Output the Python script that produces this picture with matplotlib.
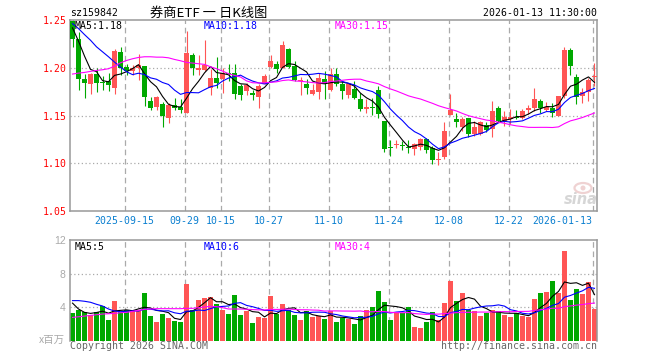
import numpy as np
import pandas as pd
import matplotlib
matplotlib.use("Agg")
import matplotlib.pyplot as plt
from matplotlib.patches import Ellipse

# ---------------- data ----------------
opens = [1.2486, 1.2306, 1.1878, 1.1833, 1.1938, 1.1854, 1.1860, 1.1785, 1.2167, 1.2007,
         1.1965, 1.2000, 1.2017, 1.1653, 1.1594, 1.1618, 1.1472, 1.1611, 1.1594, 1.1531,
         1.2132, 1.1972, 1.1972, 1.1785, 1.1889, 1.1878, 1.1950, 1.1948, 1.1809, 1.1757,
         1.1740, 1.1698, 1.1833, 1.2007, 1.2035, 1.2000, 1.2201, 1.2017, 1.1865, 1.1826,
         1.1722, 1.1750, 1.1878, 1.1764, 1.1938, 1.1826, 1.1715, 1.1774, 1.1670, 1.1566,
         1.1590, 1.1764, 1.1438, 1.1167, 1.1194, 1.1191, 1.1167, 1.1149, 1.1167, 1.1253,
         1.1160, 1.1038, 1.1063, 1.1507, 1.1462, 1.1382, 1.1469, 1.1306, 1.1306, 1.1403,
         1.1358, 1.1576, 1.1444, 1.1462, 1.1486, 1.1472, 1.1556, 1.1583, 1.1653, 1.1556,
         1.1576, 1.1497, 1.1705, 1.2191, 1.1903, 1.1705, 1.1750, 1.1903]
highs = [1.2500, 1.2375, 1.1930, 1.1940, 1.2000, 1.1910, 1.1950, 1.2201, 1.2215, 1.2035,
         1.2030, 1.2139, 1.2020, 1.1698, 1.1700, 1.1646, 1.1635, 1.1688, 1.1670, 1.2389,
         1.2156, 1.2132, 1.2292, 1.1983, 1.2111, 1.2000, 1.2035, 1.2035, 1.1833, 1.1844,
         1.1764, 1.1826, 1.1931, 1.2132, 1.2069, 1.2285, 1.2208, 1.2069, 1.1903, 1.1878,
         1.1826, 1.1948, 1.1965, 1.2000, 1.2000, 1.1861, 1.1844, 1.1861, 1.1740, 1.1670,
         1.1688, 1.1809, 1.1444, 1.1243, 1.1243, 1.1236, 1.1243, 1.1208, 1.1264, 1.1264,
         1.1184, 1.1115, 1.1427, 1.1729, 1.1531, 1.1486, 1.1479, 1.1444, 1.1444, 1.1427,
         1.1653, 1.1601, 1.1542, 1.1566, 1.1556, 1.1566, 1.1611, 1.1785, 1.1670, 1.1646,
         1.1635, 1.1705, 1.2215, 1.2208, 1.1931, 1.1792, 1.1889, 1.2052]
lows = [1.2215, 1.1764, 1.1680, 1.1730, 1.1750, 1.1764, 1.1760, 1.1722, 1.1924, 1.1924,
        1.1920, 1.1868, 1.1600, 1.1556, 1.1556, 1.1375, 1.1417, 1.1556, 1.1531, 1.1521,
        1.1924, 1.1924, 1.1965, 1.1715, 1.1792, 1.1740, 1.1861, 1.1670, 1.1660, 1.1715,
        1.1660, 1.1583, 1.1826, 1.2000, 1.1948, 1.2000, 1.2000, 1.1861, 1.1715, 1.1722,
        1.1715, 1.1670, 1.1670, 1.1757, 1.1809, 1.1670, 1.1688, 1.1670, 1.1542, 1.1531,
        1.1507, 1.1479, 1.1115, 1.1080, 1.1160, 1.1139, 1.1104, 1.1090, 1.1139, 1.1104,
        1.0993, 1.0986, 1.1045, 1.1507, 1.1375, 1.1340, 1.1271, 1.1288, 1.1299, 1.1323,
        1.1271, 1.1437, 1.1392, 1.1410, 1.1462, 1.1462, 1.1514, 1.1549, 1.1531, 1.1549,
        1.1486, 1.1490, 1.1688, 1.1924, 1.1625, 1.1635, 1.1653, 1.1809]
closes = [1.2306, 1.1878, 1.1837, 1.1930, 1.1844, 1.1837, 1.1816, 1.2174, 1.2000, 1.1965,
          1.2000, 1.2024, 1.1698, 1.1583, 1.1698, 1.1497, 1.1611, 1.1583, 1.1556, 1.2156,
          1.1993, 1.2000, 1.2028, 1.1889, 1.1837, 1.1948, 1.1930, 1.1729, 1.1715, 1.1816,
          1.1715, 1.1809, 1.1913, 1.2069, 1.1983, 1.2243, 1.2007, 1.1868, 1.1875, 1.1792,
          1.1764, 1.1896, 1.1833, 1.1931, 1.1833, 1.1757, 1.1826, 1.1688, 1.1566, 1.1590,
          1.1583, 1.1514, 1.1149, 1.1160, 1.1201, 1.1184, 1.1160, 1.1201, 1.1253, 1.1139,
          1.1035, 1.1049, 1.1333, 1.1556, 1.1434, 1.1462, 1.1306, 1.1375, 1.1427, 1.1347,
          1.1549, 1.1444, 1.1486, 1.1486, 1.1479, 1.1542, 1.1583, 1.1670, 1.1583, 1.1590,
          1.1531, 1.1705, 1.2191, 1.2017, 1.1694, 1.1750, 1.1870, 1.1905]
volumes = [3.36, 3.68, 3.40, 3.08, 3.40, 4.16, 2.48, 4.76, 3.40, 3.68,
           3.68, 3.56, 5.72, 2.96, 2.24, 3.20, 2.72, 2.36, 2.24, 6.80,
           3.68, 4.88, 5.12, 5.24, 4.40, 3.68, 3.20, 5.48, 3.08, 3.56,
           2.12, 2.84, 2.72, 5.36, 3.20, 4.40, 3.68, 3.08, 2.48, 3.56,
           2.84, 2.96, 2.60, 3.56, 2.24, 2.72, 2.60, 2.00, 2.96, 3.68,
           4.04, 5.96, 4.64, 2.48, 3.32, 3.32, 4.04, 1.64, 1.52, 2.24,
           3.44, 2.48, 4.52, 7.16, 4.76, 5.72, 3.68, 3.56, 2.96, 3.32,
           3.68, 3.56, 3.08, 2.84, 3.32, 2.96, 2.84, 5.00, 5.72, 5.84,
           7.16, 5.72, 10.64, 4.88, 6.20, 5.60, 7.04, 3.80]

# moving-average values before a full window is available
ma5_head = [1.2417, 1.2278, 1.2122, 1.1983]
ma10_head = [1.2462, 1.2410, 1.2347, 1.2288, 1.2219, 1.2167, 1.2115, 1.2059, 1.2007]
ma30_head = [1.1934, 1.1944, 1.1951, 1.1962, 1.1972, 1.1979, 1.1990, 1.2017, 1.2052, 1.2076,
             1.2094, 1.2108, 1.2115, 1.2115, 1.2111, 1.2111, 1.2104, 1.2087, 1.2073, 1.2056,
             1.2049, 1.2042, 1.2035, 1.2010, 1.1990, 1.1965, 1.1938, 1.1920, 1.1903]
vma5_head = [4.50, 3.80, 3.40, 3.28]
vma10_head = [4.80, 4.80, 4.72, 4.60, 4.36, 4.16, 3.80, 3.56, 3.48]
vma30_head = [2.80, 2.88, 2.96, 3.04, 3.12, 3.20, 3.24, 3.28, 3.36, 3.40,
              3.52, 3.64, 3.76, 3.80, 3.84, 3.84, 3.84, 3.84, 3.84, 3.88,
              3.88, 3.96, 4.04, 4.12, 4.08, 3.96, 3.80, 3.80, 3.80]

tick_dates = ['2025-09-15', '2025-09-29', '2025-10-15', '2025-10-27', '2025-11-10',
              '2025-11-24', '2025-12-08', '2025-12-22', '2026-01-13']
tick_labels = ['2025-09-15', '09-29', '10-15', '10-27', '11-10',
               '11-24', '12-08', '12-22', '2026-01-13']
holidays = ['2025-10-01', '2025-10-02', '2025-10-03', '2025-10-06', '2025-10-07',
            '2025-10-08', '2026-01-01', '2026-01-02']
price_ticks = [1.05, 1.10, 1.15, 1.20, 1.25]
vol_ticks = [4, 8, 12]

title = '券商ETF 一 日K线图'
code = 'sz159842'
stamp = '2026-01-13 11:30:00'

# ---------------- styling ----------------
RED = '#FF5555'
GREEN = '#00A800'
GRID = '#AAAAAA'
SPINE = '#999999'
MONO = 'DejaVu Sans Mono'
CJK = ['Noto Sans CJK SC', 'DejaVu Sans']
FS = 7.1

W, H = 660, 360
fig = plt.figure(figsize=(W / 100, H / 100), dpi=100)
fig.patch.set_facecolor('white')


def fx(px):
    return px / W


def fy(py):
    return 1 - py / H


L, R = 70, 597
ax = fig.add_axes([fx(L), fy(211), (R - L) / W, (211 - 20) / H])
axv = fig.add_axes([fx(L), fy(341), (R - L) / W, (341 - 240) / H])

dates = pd.bdate_range('2025-09-02', '2026-01-13')
dates = dates[~dates.isin(pd.to_datetime(holidays))]
n = len(closes)
x = np.arange(n)
o = np.array(opens)
c = np.array(closes)
h = np.array(highs)
l = np.array(lows)
v = np.array(volumes)
up = c >= o
cols = np.where(up, RED, GREEN)

# moving averages
s = pd.Series(closes)
ma5 = s.rolling(5).mean().to_numpy()
ma5[:4] = ma5_head
ma10 = s.rolling(10).mean().to_numpy()
ma10[:9] = ma10_head
ma30 = s.rolling(30).mean().to_numpy()
ma30[:29] = ma30_head
sv = pd.Series(volumes)
vma5 = sv.rolling(5).mean().to_numpy()
vma5[:4] = vma5_head
vma10 = sv.rolling(10).mean().to_numpy()
vma10[:9] = vma10_head
vma30 = sv.rolling(30).mean().to_numpy()
vma30[:29] = vma30_head

tick_pos = [int(np.where(dates == pd.Timestamp(d))[0][0]) - 0.33 for d in tick_dates]

# ---------------- shared axes styling ----------------
for a in (ax, axv):
    a.set_xlim(-0.42, n - 0.58)
    for p in tick_pos:
        a.axvline(p, color=GRID, lw=0.9, ls=(0, (4.5, 3)), zorder=0)
    for sp in a.spines.values():
        sp.set_color(SPINE)
        sp.set_linewidth(1.1)
    a.tick_params(length=0)
    a.set_facecolor('white')

# ---------------- price panel ----------------
ax.set_ylim(1.05, 1.25)
for yv in price_ticks[1:-1]:
    ax.axhline(yv, color=GRID, lw=0.9, ls=(0, (1, 2)), zorder=0)

ax.vlines(x, l, h, colors=cols, linewidth=0.8, zorder=2)
body = np.maximum(np.abs(c - o), 0.0009)
ax.bar(x, body, bottom=np.minimum(o, c), width=0.78, color=cols, linewidth=0, zorder=3)

ax.plot(x, ma5, color='black', lw=0.8, zorder=4)
ax.plot(x, ma10, color='#0000FF', lw=0.8, zorder=4)
ax.plot(x, ma30, color='#FF00FF', lw=0.8, zorder=4)

ax.set_yticks(price_ticks)
ax.set_yticklabels([f'{t:.2f}' for t in price_ticks], color='#FF0000',
                   fontsize=FS, family=MONO)
ax.tick_params(axis='y', pad=2.5)
ax.set_xticks(tick_pos)
ax.set_xticklabels(tick_labels, color='#0A7FD0', fontsize=FS, family=MONO)
ax.tick_params(axis='x', pad=3.5)
ax.get_xticklabels()[-1].set_ha('right')

fig.text(fx(75), fy(26.3), f'MA5:{ma5[-1]:.2f}', color='black',
         fontsize=FS, family=MONO, va='center', ha='left')
fig.text(fx(204), fy(26.3), f'MA10:{ma10[-1]:.2f}', color='#0000FF',
         fontsize=FS, family=MONO, va='center', ha='left')
fig.text(fx(335), fy(26.3), f'MA30:{ma30[-1]:.2f}', color='#FF00FF',
         fontsize=FS, family=MONO, va='center', ha='left')

# sina watermark (logo drawn as shapes, word as text)
fig.add_artist(Ellipse((fx(583), fy(188)), 17 / W, 10 / H, transform=fig.transFigure,
                       facecolor='none', edgecolor='#EFD2D2', lw=1.6, zorder=5))
fig.add_artist(Ellipse((fx(583), fy(188)), 5 / W, 5 / H, transform=fig.transFigure,
                       facecolor='#EFD2D2', edgecolor='none', zorder=5))
fig.text(fx(581), fy(199), 'sina', color='#D6D6D6', fontsize=10.5, style='italic',
         weight='bold', ha='center', va='center', family='DejaVu Sans')

# ---------------- volume panel ----------------
axv.set_ylim(0, 12)
for yv in vol_ticks[:-1]:
    axv.axhline(yv, color=GRID, lw=0.9, ls=(0, (1, 2)), zorder=0)
axv.bar(x, v, width=0.84, color=cols, linewidth=0, zorder=2)
axv.plot(x, vma5, color='black', lw=0.8, zorder=4)
axv.plot(x, vma10, color='#0000FF', lw=0.8, zorder=4)
axv.plot(x, vma30, color='#FF00FF', lw=0.8, zorder=4)
axv.set_yticks(vol_ticks)
axv.set_yticklabels([str(t) for t in vol_ticks], color='#AAAAAA', fontsize=7.5,
                    family='Liberation Sans')
axv.tick_params(axis='y', pad=3)
axv.set_xticks([])
axv.spines['bottom'].set_visible(False)

fig.text(fx(75), fy(246.5), f'MA5:{int(vma5[-1])}', color='black',
         fontsize=FS, family=MONO, va='center', ha='left')
fig.text(fx(204), fy(246.5), f'MA10:{int(vma10[-1])}', color='#0000FF',
         fontsize=FS, family=MONO, va='center', ha='left')
fig.text(fx(335), fy(246.5), f'MA30:{int(vma30[-1])}', color='#FF00FF',
         fontsize=FS, family=MONO, va='center', ha='left')
fig.text(fx(65), fy(340), 'x百万', color='#AAAAAA', fontsize=7.5, family=CJK,
         ha='right', va='center')

# ---------------- header / footer ----------------
fig.text(fx(70), fy(13), code, color='black', fontsize=FS, family=MONO,
         ha='left', va='center')
fig.text(fx(209), fy(13), title, color='black', fontsize=9.5, family=CJK,
         ha='center', va='center')
fig.text(fx(597), fy(13), stamp, color='black', fontsize=FS, family=MONO,
         ha='right', va='center')
fig.text(fx(70), fy(346), 'Copyright 2026 SINA.COM', color='#666666', fontsize=FS,
         family=MONO, ha='left', va='center')
fig.text(fx(597), fy(346), 'http://finance.sina.com.cn', color='#666666', fontsize=FS,
         family=MONO, ha='right', va='center')

fig.savefig('out.png', dpi=100, facecolor='white')
